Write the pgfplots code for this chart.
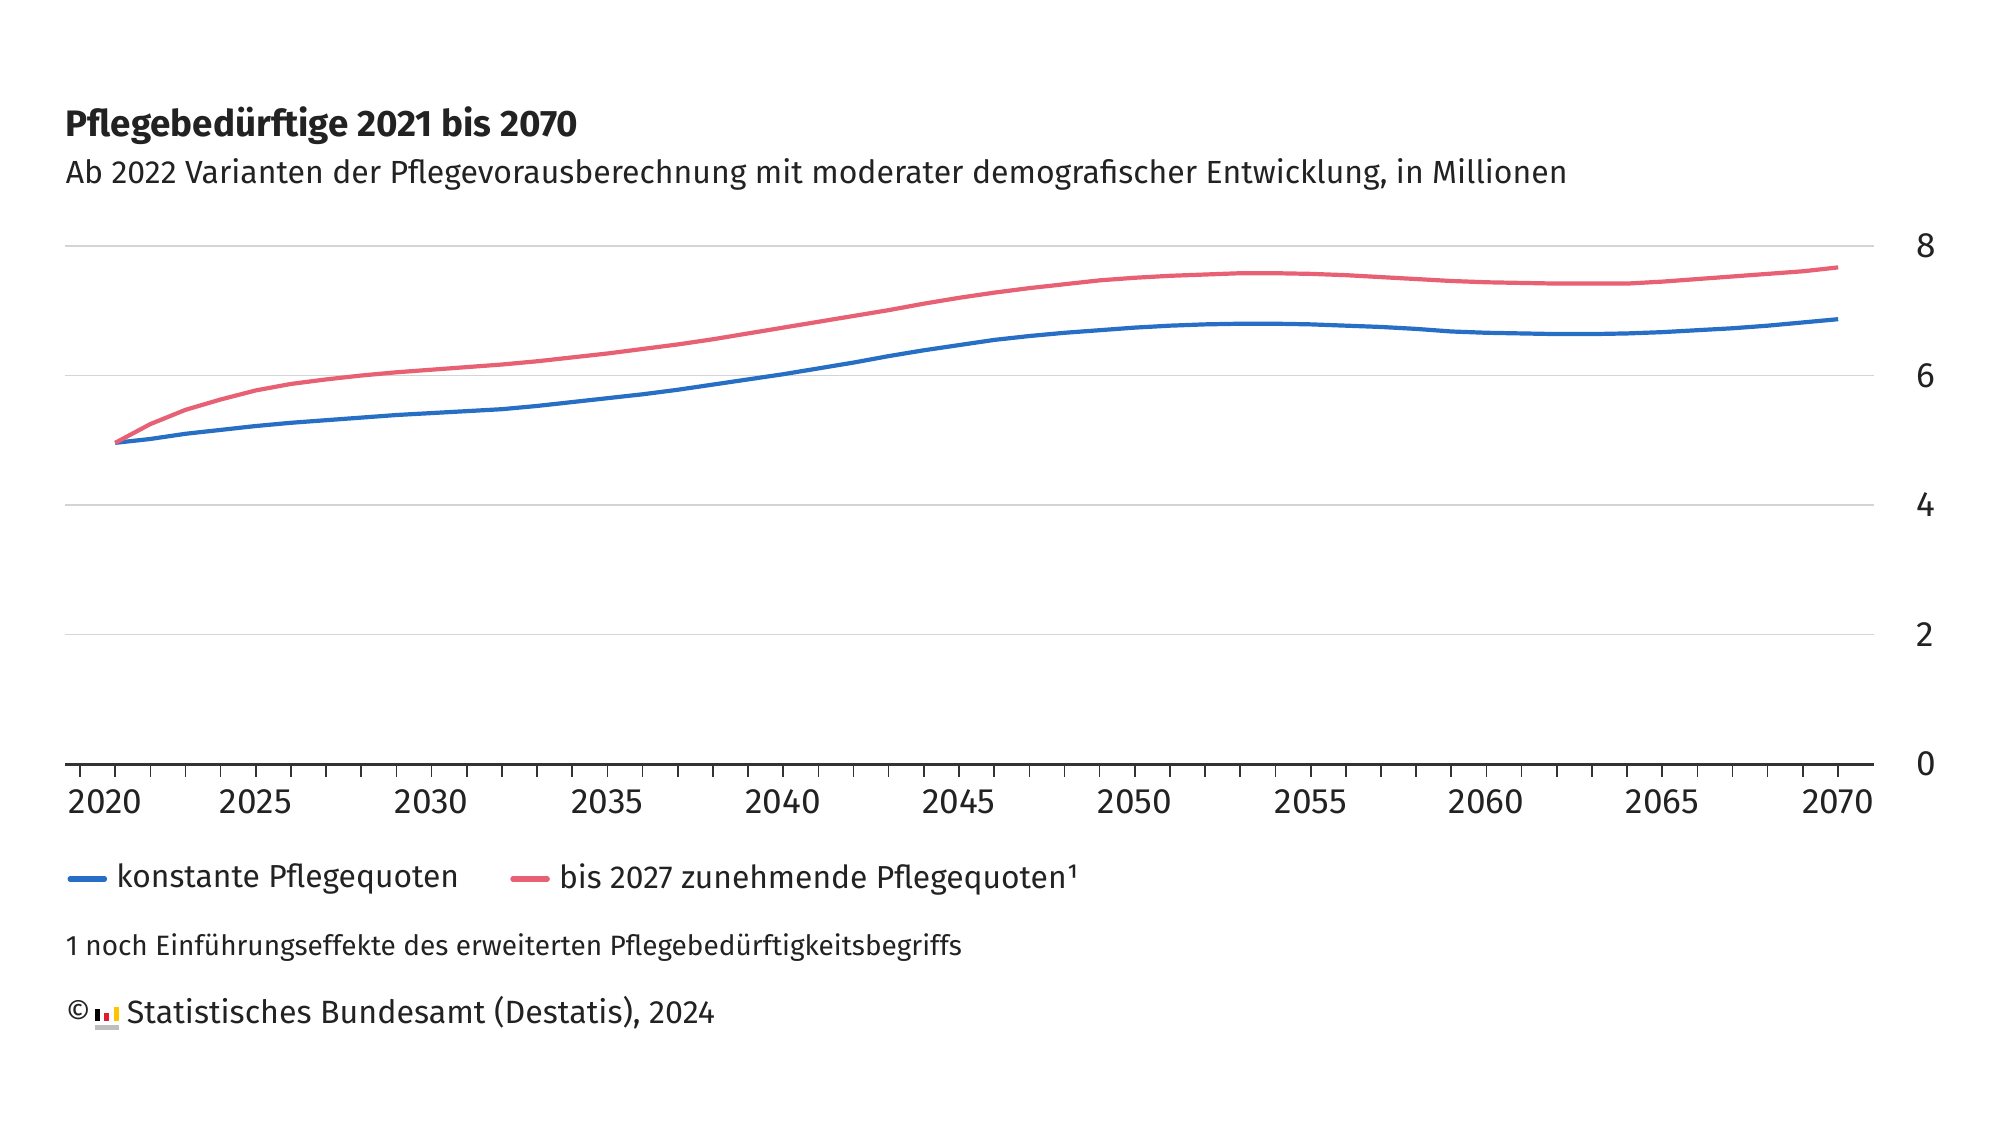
\documentclass[border=0pt]{standalone}
\usepackage{pgfplots}
\pgfplotsset{compat=1.18}
\usepackage{pgfplotstable}
\usepackage{fontspec}
\setmainfont{Fira Sans}
\definecolor{cblue}{RGB}{39,110,197}
\definecolor{cred}{RGB}{232,96,115}
\definecolor{ctext}{RGB}{34,34,34}
\definecolor{cgrid}{RGB}{212,212,212}
\definecolor{caxis}{RGB}{51,51,51}
\definecolor{logored}{RGB}{221,28,52}
\definecolor{logoyel}{RGB}{255,196,0}
\definecolor{logogray}{RGB}{190,190,190}

\pgfplotstableread{
year konst zun
2021 4.96 4.96
2022 5.02 5.25
2023 5.10 5.47
2024 5.16 5.63
2025 5.22 5.77
2026 5.27 5.87
2027 5.31 5.94
2028 5.35 6.00
2029 5.39 6.05
2030 5.42 6.09
2031 5.45 6.13
2032 5.48 6.17
2033 5.53 6.22
2034 5.59 6.28
2035 5.65 6.34
2036 5.71 6.41
2037 5.78 6.48
2038 5.86 6.56
2039 5.94 6.65
2040 6.02 6.74
2041 6.11 6.83
2042 6.20 6.92
2043 6.30 7.01
2044 6.39 7.11
2045 6.47 7.20
2046 6.55 7.28
2047 6.61 7.35
2048 6.66 7.41
2049 6.70 7.47
2050 6.74 7.51
2051 6.77 7.54
2052 6.79 7.56
2053 6.80 7.58
2054 6.80 7.58
2055 6.79 7.57
2056 6.77 7.55
2057 6.75 7.52
2058 6.72 7.49
2059 6.68 7.46
2060 6.66 7.44
2061 6.65 7.43
2062 6.64 7.42
2063 6.64 7.42
2064 6.65 7.42
2065 6.67 7.45
2066 6.70 7.49
2067 6.73 7.53
2068 6.77 7.57
2069 6.82 7.61
2070 6.87 7.67
}\datatable

\begin{document}
\begin{tikzpicture}
\path[use as bounding box] (0,0) rectangle (500pt,281.25pt);
\begin{axis}[
  at={(16.25pt,90.25pt)}, anchor=south west,
  scale only axis, width=452.25pt, height=129.5pt,
  xmin=2019.573, xmax=2071.02, ymin=0, ymax=8,
  axis x line*=bottom, axis y line*=right,
  y axis line style={draw=none},
  x axis line style={draw=caxis, line width=0.75pt},
  xtick={2020,2025,...,2070},
  minor xtick={2020,...,2070},
  xticklabels={\makebox[0pt][l]{\hspace{-2.8pt}2020},2025,2030,2035,2040,2045,2050,2055,2060,2065,2070},
  tick align=outside,
  major tick length=3.2pt, minor tick length=3.2pt,
  x tick style={draw=caxis, line width=0.4pt},
  ytick={0,2,4,6,8},
  yticklabels={0,2,4,6,8},
  y tick style={draw=none},
  ymajorgrids, grid style={draw=cgrid, line width=0.4pt},
  tick label style={font=\fontsize{8.8}{10.5}\selectfont, text=ctext},
  xticklabel style={yshift=0.4pt},
  yticklabel style={anchor=west, inner sep=0pt, xshift=7.1pt},
  legend columns=2,
  legend image code/.code={\draw[line width=1.3pt, line cap=round] (0pt,0pt) -- (8.6pt,0pt);},
  legend style={at={(0.0014,-0.222)}, anchor=west, draw=none, fill=none,
    inner sep=0pt, outer sep=0pt, column sep=0pt,
    font=\fontsize{7.95}{9.6}\selectfont, text=ctext,
    nodes={inner sep=0pt},
    /tikz/every odd column/.append style={column sep=2.3pt},
    /tikz/every even column/.append style={column sep=12.8pt}},
  clip=false,
]
\addplot[cblue, line width=1.05pt, line join=round] table[x=year, y=konst] {\datatable};
\addlegendentry{konstante Pflegequoten}
\addplot[cred, line width=1.05pt, line join=round] table[x=year, y=zun] {\datatable};
\addlegendentry{bis 2027 zunehmende Pflegequoten¹}
\end{axis}
\node[anchor=base west, inner sep=0pt, text=ctext, font=\fontsize{9.2}{11}\selectfont\bfseries] at (16.25pt,247.1pt) {Pflegebedürftige 2021 bis 2070};
\node[anchor=base west, inner sep=0pt, text=ctext, font=\fontsize{8}{9.6}\selectfont] at (16.25pt,235.4pt) {Ab 2022 Varianten der Pflegevorausberechnung mit moderater demografischer Entwicklung, in Millionen};
\node[anchor=base west, inner sep=0pt, text=ctext, font=\fontsize{7}{8.4}\selectfont] at (16.25pt,42.5pt) {1 noch Einführungseffekte des erweiterten Pflegebedürftigkeitsbegriffs};
\node[anchor=base west, inner sep=0pt, text=ctext, font=\fontsize{7.7}{9.6}\selectfont] at (16.25pt,25.3pt) {©};
\fill[logogray] (23.75pt,23.8pt) rectangle (29.75pt,25.05pt);
\fill[black] (23.75pt,26.05pt) rectangle (25pt,29.05pt);
\fill[logored] (26pt,26.05pt) rectangle (27.25pt,28.05pt);
\fill[logoyel] (28.5pt,26.05pt) rectangle (29.75pt,29.55pt);
\node[anchor=base west, inner sep=0pt, text=ctext, font=\fontsize{8.05}{9.6}\selectfont] at (31.5pt,25.3pt) {Statistisches Bundesamt (Destatis), 2024};
\end{tikzpicture}
\end{document}
